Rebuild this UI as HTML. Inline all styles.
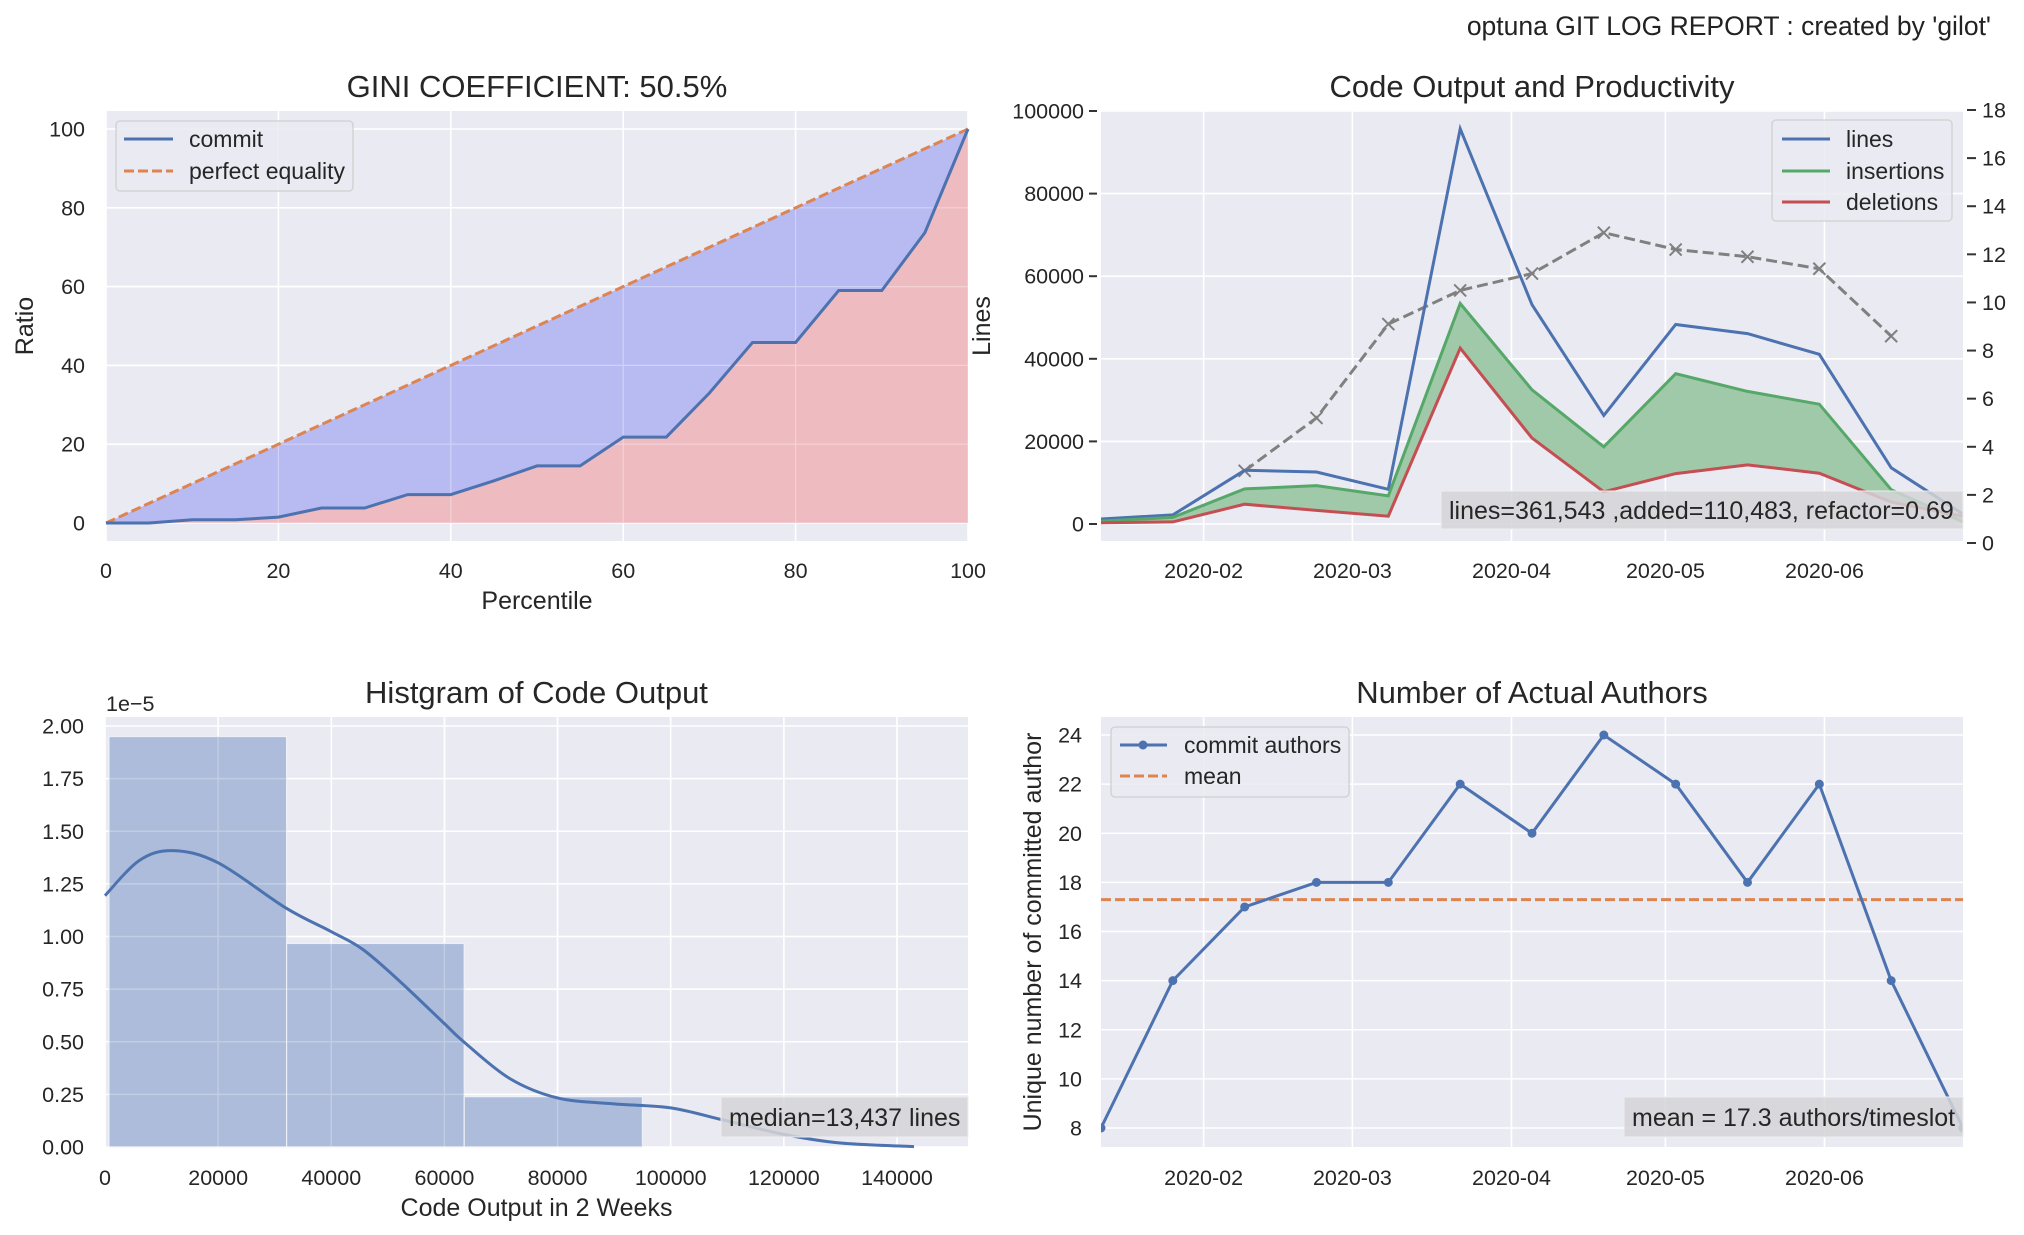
<!DOCTYPE html>
<html><head><meta charset="utf-8"><style>
html,body{margin:0;padding:0;background:#fff;}
svg{display:block;font-family:"Liberation Sans",Arial,sans-serif;}
</style></head><body>
<svg id="fig" width="2024" height="1235" viewBox="0 0 2024 1235" xmlns="http://www.w3.org/2000/svg">
<text x="1991" y="35" text-anchor="end" font-size="26.5" fill="#222">optuna GIT LOG REPORT : created by 'gilot'</text>
</svg>
<script>
// ---------- DATA ----------
const giniPercentile = [0,5,10,15,20,25,30,35,40,45,50,55,60,65,70,75,80,85,90,95,100];
const giniCommit = [0,0,0.8,0.8,1.5,3.8,3.8,7.2,7.2,10.7,14.5,14.5,21.8,21.8,33,45.8,45.8,59,59,73.7,100];
const giniTicks = [0,20,40,60,80,100];

const dates = ["2020-01-12","2020-01-26","2020-02-09","2020-02-23","2020-03-08","2020-03-22","2020-04-05","2020-04-19","2020-05-03","2020-05-17","2020-05-31","2020-06-14","2020-06-28"];
const linesSeries = [1200,2200,13000,12600,8400,95700,53100,26300,48300,46100,41100,13600,2400];
const insertionsSeries = [700,1600,8500,9300,6800,53400,32500,18700,36400,32100,29000,8300,500];
const deletionsSeries = [300,500,4800,3300,1900,42600,20800,7800,12200,14300,12300,5300,1900];
const productivityDates = ["2020-02-09","2020-02-23","2020-03-08","2020-03-22","2020-04-05","2020-04-19","2020-05-03","2020-05-17","2020-05-31","2020-06-14"];
const productivitySeries = [3.0,5.2,9.1,10.5,11.2,12.9,12.2,11.9,11.4,8.6];
const linesTicks = [0,20000,40000,60000,80000,100000];
const rightTicks = [0,2,4,6,8,10,12,14,16,18];
const monthTicks = ["2020-02-01","2020-03-01","2020-04-01","2020-05-01","2020-06-01"];
const monthLabels = ["2020-02","2020-03","2020-04","2020-05","2020-06"];

const binEdges = [700,32100,63500,95000];
const binHeights = [1.95,0.967,0.239];
const kdeX = [0,6000,12000,20000,32000,40000,45500,52000,60000,63400,71500,80000,90000,100000,109000,120000,130000,143000];
const kdeY = [1.194,1.36,1.408,1.35,1.135,1.023,0.94,0.79,0.586,0.50,0.326,0.233,0.205,0.186,0.13,0.06,0.019,0.002];
const histXTicks = [0,20000,40000,60000,80000,100000,120000,140000];
const histYTicks = [0,0.25,0.5,0.75,1.0,1.25,1.5,1.75,2.0];

const authorsSeries = [8,14,17,18,18,22,20,24,22,18,22,14,8];
const authorsMean = [17.3];
const authorsTicks = [8,10,12,14,16,18,20,22,24];

// ---------- HELPERS ----------
const NS="http://www.w3.org/2000/svg";
const svg=document.getElementById('fig');
function mk(tag,attrs,parent){const e=document.createElementNS(NS,tag);for(const k in attrs)e.setAttribute(k,attrs[k]);(parent||svg).appendChild(e);return e;}
function lin(d0,d1,r0,r1){return v=>r0+(v-d0)*(r1-r0)/(d1-d0);}
const day=s=>Date.parse(s+"T00:00:00Z")/86400000;
function pts(xs,ys,fx,fy){return xs.map((x,i)=>fx(x).toFixed(1)+","+fy(ys[i]).toFixed(1)).join(" ");}
const BG="#eaeaf2",BLUE="#4c72b0",ORANGE="#dd8452",GREEN="#55a868",RED="#c44e52";
const TK=21.5, LG=23, TT=31, AX=25, AN=25;

function panel(x0,y0,x1,y1,name){
  const g=mk('g',{});
  
  
  const r=mk('rect',{x:x0,y:y0,width:x1-x0,height:y1-y0,fill:BG},g);
  
  
  const cp=mk('clipPath',{id:'cp-'+name},g);
  mk('rect',{x:x0,y:y0,width:x1-x0,height:y1-y0},cp);
  return g;
}
function text(g,x,y,s,size,anchor,extra){const t=mk('text',Object.assign({x:x,y:y,'font-size':size,'text-anchor':anchor||'middle',fill:'#262626'},extra||{}),g);t.textContent=s;return t;}

// ================= PANEL 1: GINI =================
{
const L=106,R=968,T=111,B=541;
const fx=lin(0,100,L,R), fy=lin(0,100,523,129);
const g=panel(L,T,R,B,'gini-panel');
const clip='url(#cp-gini-panel)';
const gridG=mk('g',{'clip-path':clip},g);
giniTicks.forEach(v=>{
  const gl=mk('line',{x1:fx(v),x2:fx(v),y1:T,y2:B,stroke:'#fff','stroke-width':1.6},gridG);
  
  
  const gh=mk('line',{x1:L,x2:R,y1:fy(v),y2:fy(v),stroke:'#fff','stroke-width':1.6},gridG);
  
  
  const tx=text(g,fx(v),578,String(v),TK);
  
  
  const ty=text(g,85,fy(v)+7.5,String(v),TK,'end');
  
  
});
const upper=giniPercentile.map(p=>fx(p).toFixed(1)+","+fy(p).toFixed(1)).join(" ");
const lower=pts(giniPercentile,giniCommit,fx,fy);
const lowerRev=giniPercentile.slice().reverse().map((p,i)=>fx(p).toFixed(1)+","+fy(giniCommit[giniCommit.length-1-i]).toFixed(1)).join(" ");
const fb=mk('polygon',{points:upper+" "+lowerRev,fill:'#b8baf2'},g);


const fr=mk('polygon',{points:lower+" "+fx(100)+","+fy(0)+" "+fx(0)+","+fy(0),fill:'#eebbc0'},g);


const over=mk('g',{opacity:0.35},g);
giniTicks.forEach(v=>{mk('line',{x1:fx(v),x2:fx(v),y1:T,y2:B,stroke:'#fff','stroke-width':1.2},over);mk('line',{x1:L,x2:R,y1:fy(v),y2:fy(v),stroke:'#fff','stroke-width':1.2},over);});
const eq=mk('line',{x1:fx(0),y1:fy(0),x2:fx(100),y2:fy(100),stroke:ORANGE,'stroke-width':3,'stroke-dasharray':'10,4'},g);


const cl=mk('polyline',{points:lower,fill:'none',stroke:BLUE,'stroke-width':3},g);


const title=text(g,(L+R)/2,97,'GINI COEFFICIENT: 50.5%',TT);


const xl=text(g,(L+R)/2,609,'Percentile',AX);


const yl=text(g,33,326,'Ratio',AX,'middle',{transform:'rotate(-90 33 326)'});


const lg=mk('g',{},g);


mk('rect',{x:116,y:121,width:237,height:70,rx:4,fill:BG,'fill-opacity':0.85,stroke:'#d0d0d0','stroke-width':1.3},lg);
mk('line',{x1:124,x2:173,y1:139,y2:139,stroke:BLUE,'stroke-width':3},lg);
const le1=text(lg,189,147,'commit',LG,'start');


mk('line',{x1:124,x2:173,y1:171,y2:171,stroke:ORANGE,'stroke-width':3,'stroke-dasharray':'10,4'},lg);
const le2=text(lg,189,179,'perfect equality',LG,'start');


}

// ================= PANEL 2: CODE OUTPUT =================
{
const L=1101,R=1963,T=111,B=541;
const fx=lin(day(dates[0]),day(dates[dates.length-1]),L,R);
const fy=lin(0,100000,524,111);
const fy2=lin(0,18,543,110);
const g=panel(L,T,R,B,'code-output-panel');
const clip='url(#cp-code-output-panel)';
linesTicks.forEach(v=>{
  const gh=mk('line',{x1:L,x2:R,y1:fy(v),y2:fy(v),stroke:'#fff','stroke-width':1.6},g);
  
  
  mk('line',{x1:L-12,x2:L-4,y1:fy(v),y2:fy(v),stroke:'#333','stroke-width':2},g);
  const t=text(g,L-17,fy(v)+7.5,String(v),TK,'end');
  
  
});
monthTicks.forEach((m,i)=>{
  const gl=mk('line',{x1:fx(day(m)),x2:fx(day(m)),y1:T,y2:B,stroke:'#fff','stroke-width':1.6},g);
  
  
  const t=text(g,fx(day(m)),578,monthLabels[i],TK);
  
  
});
rightTicks.forEach(v=>{
  mk('line',{x1:R+4,x2:R+13,y1:fy2(v),y2:fy2(v),stroke:'#333','stroke-width':2},g);
  const t=text(g,R+19,fy2(v)+7.5,String(v),TK,'start');
  
  
});
const dx=dates.map(day);
const data=mk('g',{'clip-path':clip},g);
const fill=mk('polygon',{points:pts(dx,insertionsSeries,fx,fy)+" "+pts(dx.slice().reverse(),deletionsSeries.slice().reverse(),fx,fy),fill:'#a0c9a9'},data);


const pd=productivityDates.map(day);
const prod=mk('polyline',{points:pts(pd,productivitySeries,fx,fy2),fill:'none',stroke:'#808080','stroke-width':3,'stroke-dasharray':'11,5'},data);


pd.forEach((d,i)=>{
  const cx=fx(d),cy=fy2(productivitySeries[i]);
  const mkx=mk('path',{d:`M${cx-6},${cy-6}L${cx+6},${cy+6}M${cx-6},${cy+6}L${cx+6},${cy-6}`,stroke:'#808080','stroke-width':2},data);
  
  
});
const l1=mk('polyline',{points:pts(dx,linesSeries,fx,fy),fill:'none',stroke:BLUE,'stroke-width':3},data);


const l2=mk('polyline',{points:pts(dx,insertionsSeries,fx,fy),fill:'none',stroke:GREEN,'stroke-width':3},data);


const l3=mk('polyline',{points:pts(dx,deletionsSeries,fx,fy),fill:'none',stroke:RED,'stroke-width':3},data);


const ab=mk('g',{},g);


mk('rect',{x:1441,y:491,width:522,height:38,fill:'#d5d5d8','fill-opacity':0.85,stroke:'#eee'},ab);
text(ab,1449,519,'lines=361,543 ,added=110,483, refactor=0.69',AN,'start');
const title=text(g,(L+R)/2,97,'Code Output and Productivity',TT);


const yl=text(g,990,326,'Lines',AX,'middle',{transform:'rotate(-90 990 326)'});


const lg=mk('g',{},g);


mk('rect',{x:1772,y:120,width:180,height:101,rx:4,fill:BG,'fill-opacity':0.85,stroke:'#d0d0d0','stroke-width':1.3},lg);
[['lines',BLUE,139],['insertions',GREEN,171],['deletions',RED,202]].forEach(e=>{
  mk('line',{x1:1782,x2:1830,y1:e[2],y2:e[2],stroke:e[1],'stroke-width':3},lg);
  const t=text(lg,1846,e[2]+8,e[0],LG,'start');
  
  
});
}

// ================= PANEL 3: HISTOGRAM =================
{
const L=105,R=968,T=717,B=1147;
const fx=lin(0,140000,105,897);
const fy=lin(0,2.0,1147,726);
const g=panel(L,T,R,B,'histogram-panel');
histXTicks.forEach(v=>{
  const gl=mk('line',{x1:fx(v),x2:fx(v),y1:T,y2:B,stroke:'#fff','stroke-width':1.6},g);
  
  
  const t=text(g,fx(v),1185,String(v),TK);
  
  
});
histYTicks.forEach(v=>{
  const gh=mk('line',{x1:L,x2:R,y1:fy(v),y2:fy(v),stroke:'#fff','stroke-width':1.6},g);
  
  
  const t=text(g,84,fy(v)+7.5,v.toFixed(2),TK,'end');
  
  
});
binHeights.forEach((h,i)=>{
  const b=mk('rect',{x:fx(binEdges[i]),y:fy(h),width:fx(binEdges[i+1])-fx(binEdges[i]),height:fy(0)-fy(h),fill:'#a9b9d8','fill-opacity':0.95,stroke:'#eef0f8','stroke-width':1.2},g);
  
  
});
const ov=mk('g',{opacity:0.25},g);
histXTicks.forEach(v=>mk('line',{x1:fx(v),x2:fx(v),y1:T,y2:B,stroke:'#fff','stroke-width':1.4},ov));
histYTicks.forEach(v=>mk('line',{x1:L,x2:R,y1:fy(v),y2:fy(v),stroke:'#fff','stroke-width':1.4},ov));
const P=kdeX.map((x,i)=>[fx(x),fy(kdeY[i])]);
let d=`M${P[0][0]},${P[0][1]}`;
for(let i=0;i<P.length-1;i++){const p0=P[Math.max(0,i-1)],p1=P[i],p2=P[i+1],p3=P[Math.min(P.length-1,i+2)];
d+=` C${p1[0]+(p2[0]-p0[0])/6},${p1[1]+(p2[1]-p0[1])/6} ${p2[0]-(p3[0]-p1[0])/6},${p2[1]-(p3[1]-p1[1])/6} ${p2[0]},${p2[1]}`;}
const k=mk('path',{d:d,fill:'none',stroke:BLUE,'stroke-width':3},g);


const ab=mk('g',{},g);


mk('rect',{x:721,y:1097,width:247,height:40,fill:'#d5d5d8','fill-opacity':0.85,stroke:'#eee'},ab);
text(ab,729,1126,'median=13,437 lines',AN,'start');
const ex=text(g,106,711,'1e\u22125',TK,'start');


const title=text(g,(L+R)/2,703,'Histgram of Code Output',TT);


const xl=text(g,(L+R)/2,1216,'Code Output in 2 Weeks',AX);


}

// ================= PANEL 4: AUTHORS =================
{
const L=1101,R=1963,T=717,B=1147;
const fx=lin(day(dates[0]),day(dates[dates.length-1]),L,R);
const fy=lin(8,24,1128,735);
const g=panel(L,T,R,B,'authors-panel');
authorsTicks.forEach(v=>{
  const gh=mk('line',{x1:L,x2:R,y1:fy(v),y2:fy(v),stroke:'#fff','stroke-width':1.6},g);
  
  
  const t=text(g,1082,fy(v)+7.5,String(v),TK,'end');
  
  
});
monthTicks.forEach((m,i)=>{
  const gl=mk('line',{x1:fx(day(m)),x2:fx(day(m)),y1:T,y2:B,stroke:'#fff','stroke-width':1.6},g);
  
  
  const t=text(g,fx(day(m)),1185,monthLabels[i],TK);
  
  
});
const dx=dates.map(day);
const data=mk('g',{'clip-path':'url(#cp-authors-panel)'},g);
const mn=mk('line',{x1:L,x2:R,y1:fy(authorsMean[0]),y2:fy(authorsMean[0]),stroke:ORANGE,'stroke-width':3,'stroke-dasharray':'10,4'},data);


const al=mk('polyline',{points:pts(dx,authorsSeries,fx,fy),fill:'none',stroke:BLUE,'stroke-width':3},data);


dx.forEach((d,i)=>{
  const c=mk('circle',{cx:fx(d),cy:fy(authorsSeries[i]),r:4.5,fill:BLUE},data);
  
  
});
const ab=mk('g',{},g);


mk('rect',{x:1624,y:1097,width:339,height:40,fill:'#d5d5d8','fill-opacity':0.85,stroke:'#eee'},ab);
text(ab,1632,1126,'mean = 17.3 authors/timeslot',AN,'start');
const title=text(g,(L+R)/2,703,'Number of Actual Authors',TT);


const yl=text(g,1041,932,'Unique number of committed author',AX,'middle',{transform:'rotate(-90 1041 932)'});


const lg=mk('g',{},g);


mk('rect',{x:1111,y:727,width:238,height:70,rx:4,fill:BG,'fill-opacity':0.85,stroke:'#d0d0d0','stroke-width':1.3},lg);
mk('line',{x1:1120,x2:1167,y1:745,y2:745,stroke:BLUE,'stroke-width':3},lg);
mk('circle',{cx:1143,cy:745,r:4.5,fill:BLUE},lg);
const le1=text(lg,1184,753,'commit authors',LG,'start');


mk('line',{x1:1120,x2:1167,y1:776,y2:776,stroke:ORANGE,'stroke-width':3,'stroke-dasharray':'10,4'},lg);
const le2=text(lg,1184,784,'mean',LG,'start');


}
</script>
</body></html>
